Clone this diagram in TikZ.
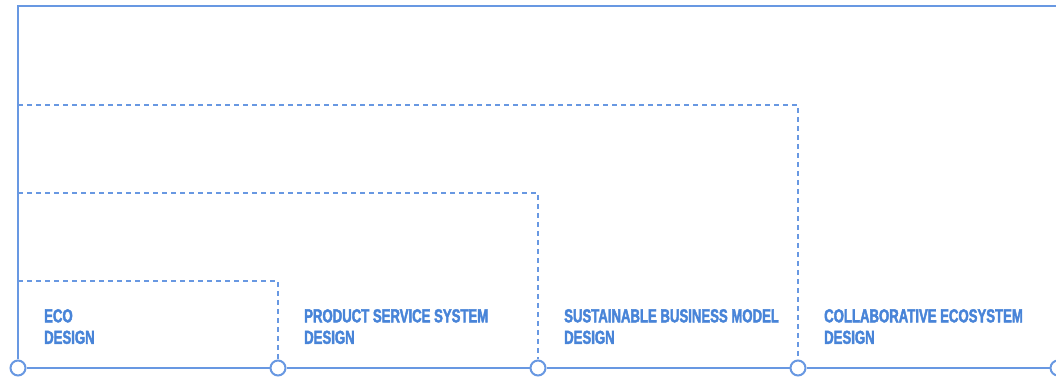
\documentclass[tikz,border=0pt]{standalone}
\usepackage{fontspec}
\setmainfont{Liberation Sans}[FakeStretch=0.7, BoldFeatures={FakeBold=2.2}]
\usepackage {tikz}
\usetikzlibrary {positioning}
\definecolor {lineblue}{RGB}{104,152,226}
\definecolor {textblue}{RGB}{72,132,216}

\begin{document}
\begin{tikzpicture}[x=1pt ,y=1pt ,node distance =260pt ,on grid ,
rail/.style ={draw=lineblue , line width=1.8pt },
guide/.style ={draw=lineblue , line width=1.3pt , dash pattern=on 5pt off 4pt },
dot/.style ={circle , draw=lineblue , line width=2pt , fill=white ,
minimum size=15pt , inner sep=0pt },
stage/.style ={anchor=north west , inner sep=0pt , align=left , text=textblue ,
font=\bfseries\fontsize{18.8}{21.5}\selectfont }]
\useasboundingbox (0,0) rectangle (1056,377);
\node[dot] (c0) at (18,9) {};
\node[dot] (c1) [right =of c0] {};
\node[dot] (c2) [right =of c1] {};
\node[dot] (c3) [right =of c2] {};
\node[dot] (c4) [right =of c3] {};
\coordinate (topL) at (18,371);
\coordinate (topR) at (1056,371);
\coordinate (h3) at (18,272);
\coordinate (h2) at (18,184);
\coordinate (h1) at (18,96);
% dashed scopes
\path[guide] (h3) -| (c3);
\path[guide] (h2) -| (c2);
\path[guide] (h1) -| (c1);
% frame and base line
\path[rail] (c0) -- (topL) -- (topR);
\path[rail] (c0) -- (c1);
\path[rail] (c1) -- (c2);
\path[rail] (c2) -- (c3);
\path[rail] (c3) -- (c4);
\node[stage] (t0) at ([shift={(26,59)}]c0.center) {ECO\\DESIGN};
\node[stage] (t1) at ([shift={(26,59)}]c1.center) {PRODUCT SERVICE SYSTEM\\DESIGN};
\node[stage] (t2) at ([shift={(26,59)}]c2.center) {SUSTAINABLE BUSINESS MODEL\\DESIGN};
\node[stage] (t3) at ([shift={(26,59)}]c3.center) {COLLABORATIVE ECOSYSTEM\\DESIGN};
\end{tikzpicture}
\end{document}
